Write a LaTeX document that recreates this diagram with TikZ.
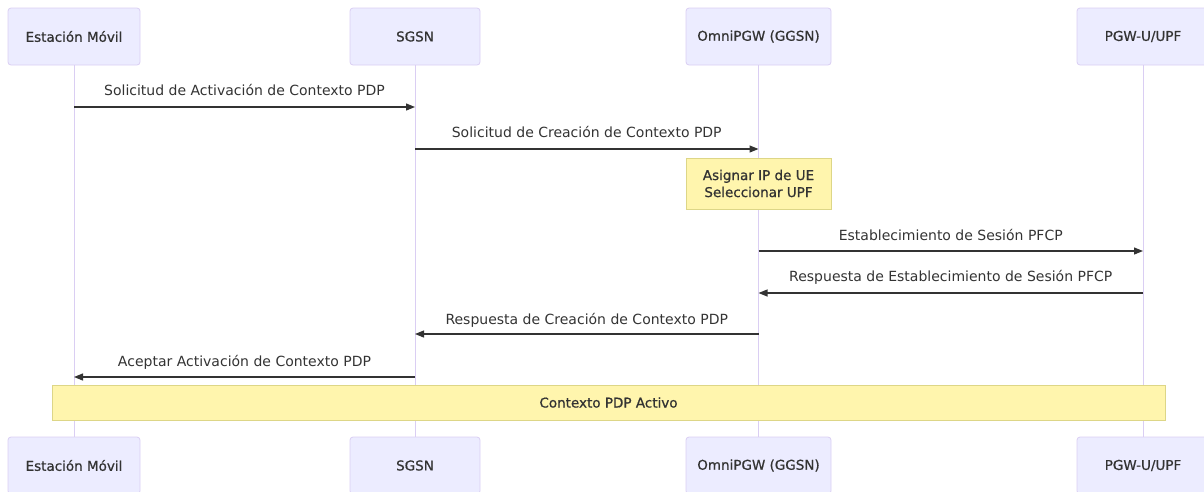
\documentclass[tikz,border=0pt]{standalone}
\usepackage{fontspec}
\setmainfont{DejaVu Sans}
\newfontfamily\heavyfont{DejaVu Sans}[FakeBold=0.8]
\usetikzlibrary{arrows.meta}
\definecolor{actfill}{HTML}{ECECFF}
\definecolor{actline}{HTML}{DACEF3}
\definecolor{notefill}{HTML}{FFF5AD}
\definecolor{noteline}{HTML}{DDD687}
\definecolor{txt}{HTML}{333333}
\tikzset{
  actor/.style={draw=actline, fill=actfill, rounded corners=3pt, line width=0.8pt,
    minimum height=57pt, inner sep=0pt, text=txt, font=\heavyfont\fontsize{13.5}{16}\selectfont},
  notebox/.style={draw=noteline, fill=notefill, line width=0.8pt, inner sep=0pt,
    text=txt, align=center, font=\heavyfont\fontsize{13.5}{17}\selectfont},
  lifeline/.style={draw=actline, line width=1pt},
  msg/.style={draw=txt, line width=1.2pt, -{Triangle[length=9pt,width=7pt]}},
  msglabel/.style={text=txt, inner sep=0pt, font=\fontsize{14}{16}\selectfont}
}
\begin{document}
\begin{tikzpicture}[x=1pt,y=-1pt]
\useasboundingbox (0,0) rectangle (1204,491);
% actors top
\node[actor, minimum width=132pt] (ema) at (74,36.5) {Estación Móvil};
\node[actor, minimum width=130pt] (sga) at (415,36.5) {SGSN};
\node[actor, minimum width=145pt] (pgwa) at (758.5,36.5) {OmniPGW (GGSN)};
\node[actor, minimum width=132pt] (upfa) at (1143,36.5) {PGW-U/UPF};
% actors bottom
\node[actor, minimum width=132pt] (emb) at (74,465.5) {Estación Móvil};
\node[actor, minimum width=130pt] (sgb) at (415,465.5) {SGSN};
\node[actor, minimum width=145pt] (pgwb) at (758.5,465.5) {OmniPGW (GGSN)};
\node[actor, minimum width=132pt] (upfb) at (1143,465.5) {PGW-U/UPF};
% lifelines
\draw[lifeline] (ema.south) -- (emb.north);
\draw[lifeline] (sga.south) -- (sgb.north);
\draw[lifeline] (pgwa.south) -- (pgwb.north);
\draw[lifeline] (upfa.south) -- (upfb.north);
% notes
\node[notebox, minimum width=145pt, minimum height=51pt] (n1) at (758.5,183.5)
  {Asignar IP de UE\\Seleccionar UPF};
\node[notebox, minimum width=1113pt, minimum height=35pt] (n2) at (608.5,402.5)
  {Contexto PDP Activo};
% message anchor points on lifelines
\coordinate (em1) at (74,107);   \coordinate (sg1) at (415,107);
\coordinate (sg2) at (415,149);  \coordinate (pg2) at (758.5,149);
\coordinate (pg3) at (758.5,251);\coordinate (up3) at (1143,251);
\coordinate (up4) at (1143,293); \coordinate (pg4) at (758.5,293);
\coordinate (pg5) at (758.5,334);\coordinate (sg5) at (415,334);
\coordinate (sg6) at (415,377);  \coordinate (em6) at (74,377);
% messages
\draw[msg] (em1) -- (sg1);
\node[msglabel] (l1) at (244.5,90) {Solicitud de Activación de Contexto PDP};
\draw[msg] (sg2) -- (pg2);
\node[msglabel] (l2) at (586.75,132) {Solicitud de Creación de Contexto PDP};
\draw[msg] (pg3) -- (up3);
\node[msglabel] (l3) at (950.75,235) {Establecimiento de Sesión PFCP};
\draw[msg] (up4) -- (pg4);
\node[msglabel] (l4) at (950.75,277) {Respuesta de Establecimiento de Sesión PFCP};
\draw[msg] (pg5) -- (sg5);
\node[msglabel] (l5) at (586.75,320) {Respuesta de Creación de Contexto PDP};
\draw[msg] (sg6) -- (em6);
\node[msglabel] (l6) at (244.5,362) {Aceptar Activación de Contexto PDP};
\end{tikzpicture}
\end{document}
